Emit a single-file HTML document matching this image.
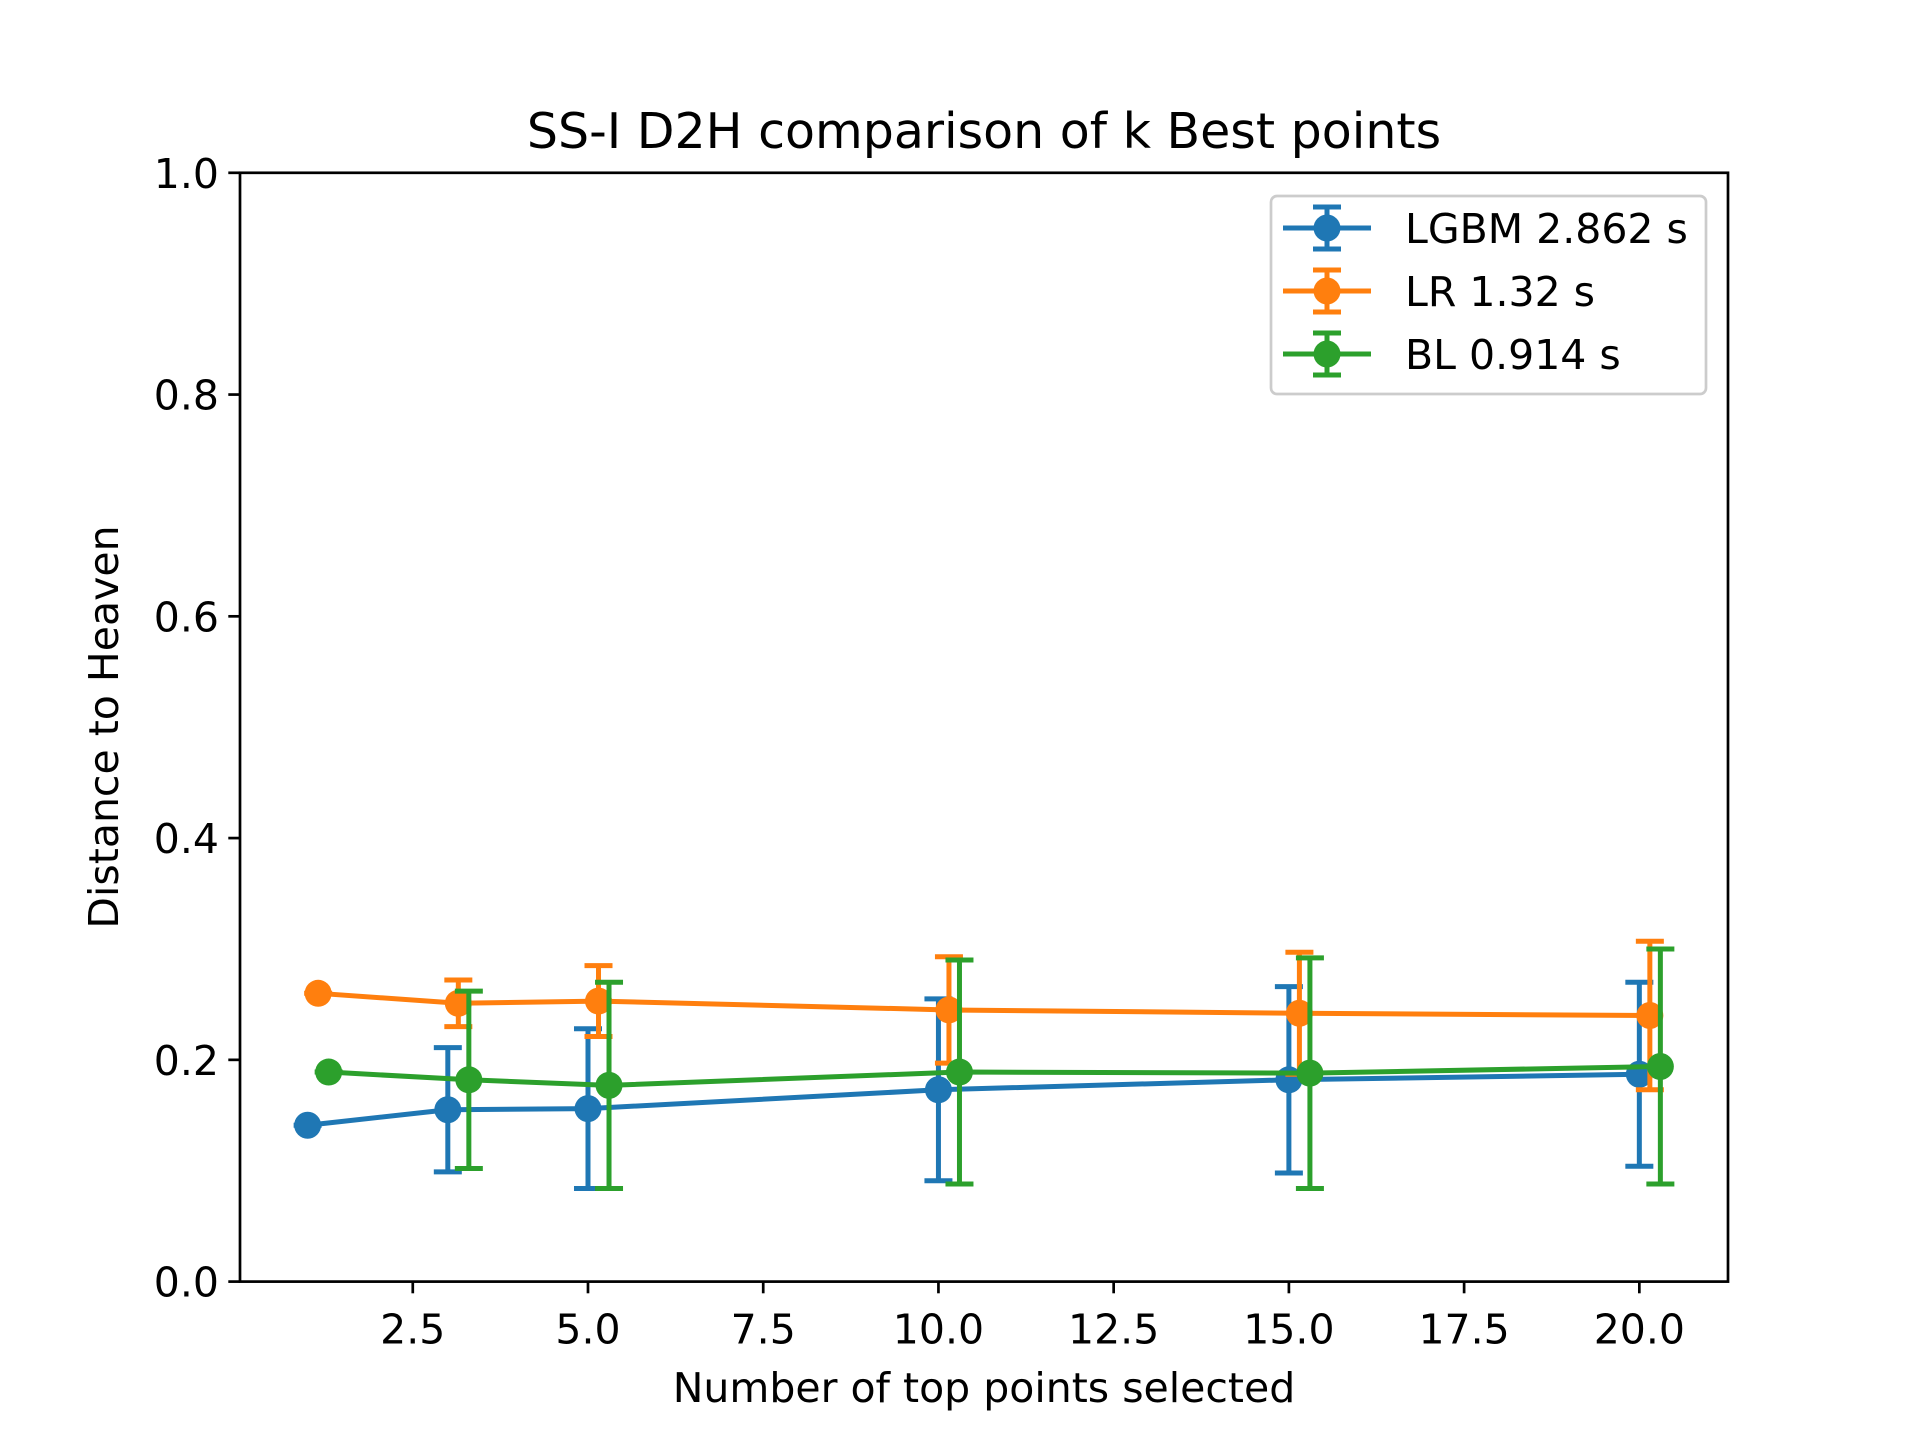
<!DOCTYPE html>
<html><head><meta charset="utf-8"><style>
html,body{margin:0;padding:0;background:#fff;}
svg{display:block;font-family:"DejaVu Sans","Liberation Sans",sans-serif;}
</style></head><body>
<svg id="chart" width="1920" height="1440" viewBox="0 0 1920 1440" xmlns="http://www.w3.org/2000/svg">
<rect width="1920" height="1440" fill="#fff"/>
<text x="984" y="148" font-size="49" text-anchor="middle">SS-I D2H comparison of k Best points</text>
<g id="plot"></g>
<rect x="240" y="172.8" width="1488" height="1108.8" fill="none" stroke="#000" stroke-width="2.7"/>
<g id="axes"></g>
<text x="984" y="1402" font-size="41" text-anchor="middle">Number of top points selected</text>
<text transform="translate(118,727) rotate(-90)" font-size="41" text-anchor="middle">Distance to Heaven</text>
<g id="legend"></g>
</svg>
<script>
const ks = [1, 3, 5, 10, 15, 20];
const seriesNames = ["LGBM 2.862 s", "LR 1.32 s", "BL 0.914 s"];
const lgbmValues = [0.141, 0.155, 0.156, 0.173, 0.182, 0.187];
const lgbmErrors = [0, 0.056, 0.072, 0.082, 0.084, 0.083];
const lrValues = [0.260, 0.251, 0.253, 0.245, 0.242, 0.240];
const lrErrors = [0, 0.021, 0.032, 0.048, 0.055, 0.067];
const blValues = [0.189, 0.182, 0.177, 0.189, 0.188, 0.194];
const blErrors = [0, 0.080, 0.093, 0.101, 0.104, 0.106];
const xOffsets = [0, 0.15, 0.3];
const xTicks = [2.5, 5.0, 7.5, 10.0, 12.5, 15.0, 17.5, 20.0];
const xTickLabels = ["2.5", "5.0", "7.5", "10.0", "12.5", "15.0", "17.5", "20.0"];
const yTicks = [0, 0.2, 0.4, 0.6, 0.8, 1.0];
const yTickLabels = ["0.0", "0.2", "0.4", "0.6", "0.8", "1.0"];

const colors = ["#1f77b4", "#ff7f0e", "#2ca02c"];
const NS = "http://www.w3.org/2000/svg";
const L = 240, R = 1728, T = 172.8, B = 1281.6;
const xMin = 0.035, xMax = 21.265, yMin = 0, yMax = 1;
const xs = v => L + (v - xMin) / (xMax - xMin) * (R - L);
const ys = v => B - (v - yMin) / (yMax - yMin) * (B - T);
function mk(tag, attrs, parent) {
  const e = document.createElementNS(NS, tag);
  for (const k in attrs) e.setAttribute(k, attrs[k]);
  parent.appendChild(e);
  return e;
}
const axes = document.getElementById('axes');
xTicks.forEach((t, i) => {
  const x = xs(t);
  const ln = mk('line', {x1: x, x2: x, y1: B, y2: B + 11.7, stroke: '#000', 'stroke-width': 2.7}, axes);
  
  
  const tx = mk('text', {x: x, y: B + 62, 'font-size': 41, 'text-anchor': 'middle'}, axes);
  tx.textContent = xTickLabels[i];
  
  
});
yTicks.forEach((t, i) => {
  const y = ys(t);
  const ln = mk('line', {x1: L - 11.7, x2: L, y1: y, y2: y, stroke: '#000', 'stroke-width': 2.7}, axes);
  
  
  const tx = mk('text', {x: L - 21, y: y + 15, 'font-size': 41, 'text-anchor': 'end'}, axes);
  tx.textContent = yTickLabels[i];
  
  
});
const plot = document.getElementById('plot');
const allVals = [lgbmValues, lrValues, blValues];
const allErrs = [lgbmErrors, lrErrors, blErrors];
allVals.forEach((vals, s) => {
  const g = mk('g', {}, plot);
  
  
  const c = colors[s];
  const pts = ks.map((k, i) => xs(k + xOffsets[s]) + ',' + ys(vals[i])).join(' ');
  const pl = mk('polyline', {points: pts, fill: 'none', stroke: c, 'stroke-width': 5}, g);
  
  
  ks.forEach((k, i) => {
    const x = xs(k + xOffsets[s]);
    const y1 = ys(vals[i] - allErrs[s][i]), y2 = ys(vals[i] + allErrs[s][i]);
    const eb = mk('path', {d: `M${x},${y1}L${x},${y2}M${x-14},${y1}L${x+14},${y1}M${x-14},${y2}L${x+14},${y2}`, stroke: c, 'stroke-width': 5, fill: 'none'}, g);
    
    
    const pt = mk('circle', {cx: x, cy: ys(vals[i]), r: 13.5, fill: c}, g);
    
    
  });
});
const lg = document.getElementById('legend');
const box = mk('rect', {x: 1271, y: 196, width: 435, height: 198, rx: 6, fill: '#fff', 'fill-opacity': 0.8, stroke: '#ccc', 'stroke-width': 2.7}, lg);


seriesNames.forEach((n, s) => {
  const y = 228 + s * 63;
  const c = colors[s];
  const g = mk('g', {}, lg);
  
  
  mk('path', {d: `M1283,${y}L1371,${y}M1327,${y-21}L1327,${y+21}M1313,${y-21}L1341,${y-21}M1313,${y+21}L1341,${y+21}`, stroke: c, 'stroke-width': 5, fill: 'none'}, g);
  mk('circle', {cx: 1327, cy: y, r: 13.5, fill: c}, g);
  const t = mk('text', {x: 1405, y: y + 15, 'font-size': 41}, g);
  t.textContent = n;
});
</script>
</body></html>
